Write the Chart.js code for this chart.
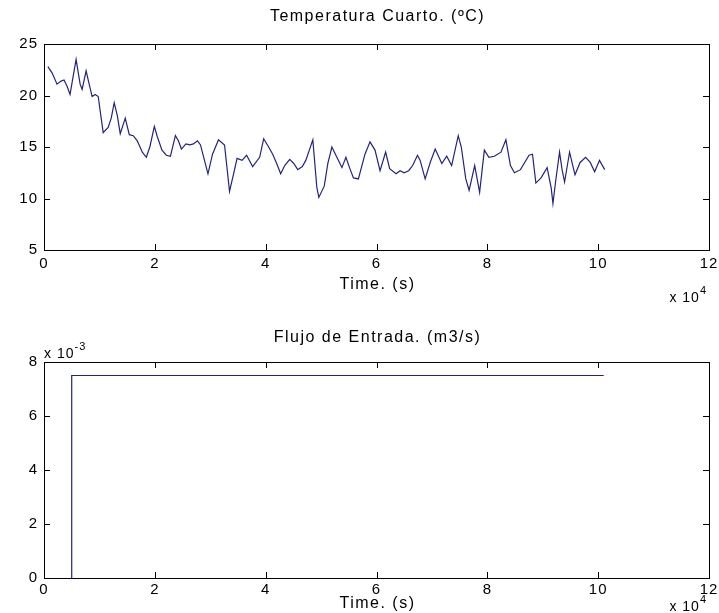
<!DOCTYPE html>
<html>
<head>
<meta charset="utf-8">
<script src="https://cdn.jsdelivr.net/npm/chart.js@4.4.0/dist/chart.umd.min.js"></script>
<style>
  body { margin: 0; background: #fff; }
  #wrap { position: relative; width: 719px; height: 613px; }
  canvas { position: absolute; left: 0; }
</style>
</head>
<body>
<div id="wrap">
  <canvas id="tempChart" width="719" height="310" style="top:0"></canvas>
  <canvas id="flowChart" width="719" height="303" style="top:310px"></canvas>
</div>
<script>
// room temperature (s, ºC)
const tempTime = [
  700, 1450, 2350, 3080, 3620, 4160, 4700, 5790, 6520, 6880,
  7600, 8150, 8690, 9230, 9780, 10680, 11580, 12130, 12670, 13210,
  13760, 14660, 15390, 16110, 16830, 17740, 18460, 19100, 19910, 20450,
  21290, 22080, 22810, 23710, 24250, 24800, 25610, 26330, 26970, 27690,
  28240, 28960, 29590, 30410, 31490, 32580, 32940, 33480, 34210, 34840,
  35740, 36560, 37650, 38910, 39640, 40540, 41270, 41990, 42710, 43440,
  44340, 45070, 45790, 46610, 47240, 48510, 49230, 49590, 50570, 51220,
  51950, 52850, 53760, 54480, 55130, 55840, 56730, 57920, 58830, 59730,
  60640, 61650, 62370, 63530, 64260, 64980, 65810, 66520, 67400, 67880,
  68780, 69690, 70590, 71790, 72670, 73560, 74750, 75300, 76110, 76710,
  77720, 78610, 79460, 80280, 81270, 82460, 83350, 84170, 84890, 85980,
  87530, 88150, 88760, 89690, 90790, 91530, 91840, 92310, 93030, 93490,
  93940, 94840, 95820, 96740, 97740, 98570, 99370, 100240, 101180
];
const tempValues = [
  22.8, 22.2, 21.1, 21.4, 21.5, 20.9, 20.1, 23.5, 21.1, 20.6,
  22.4, 21.1, 19.9, 20.1, 19.9, 16.4, 16.9, 17.8, 19.3, 18.1,
  16.3, 17.8, 16.2, 16.1, 15.6, 14.5, 14.0, 15.0, 17.0, 16.0,
  14.7, 14.2, 14.1, 16.1, 15.6, 14.8, 15.3, 15.2, 15.3, 15.6,
  15.2, 13.7, 12.4, 14.3, 15.7, 15.2, 13.4, 10.7, 12.4, 13.9,
  13.7, 14.2, 13.1, 14.0, 15.8, 15.0, 14.3, 13.4, 12.4, 13.2,
  13.8, 13.4, 12.8, 13.1, 13.7, 15.7, 11.1, 10.1, 11.2, 13.4,
  15.0, 14.0, 13.0, 14.0, 13.0, 12.0, 11.9, 14.3, 15.5, 14.7,
  12.7, 14.5, 12.9, 12.4, 12.7, 12.5, 12.7, 13.2, 14.2, 13.7,
  11.9, 13.5, 14.8, 13.4, 14.1, 13.2, 16.1, 15.0, 11.9, 10.8,
  13.2, 10.6, 14.7, 14.0, 14.1, 14.5, 15.7, 13.2, 12.5, 12.8,
  14.2, 14.3, 11.5, 12.0, 13.0, 11.0, 9.5, 11.6, 14.5, 12.8,
  11.6, 14.5, 12.3, 13.5, 14.0, 13.5, 12.6, 13.7, 12.8
];

// inflow (s, m3/s)
const flowTime = [5000, 5000, 101000];
const flowValues = [0, 0.0075, 0.0075];

// tick labels
const timeTicks = [0, 2, 4, 6, 8, 10, 12];   // x 10^4
const tempTicks = [5, 10, 15, 20, 25];
const flowTicks = [0, 2, 4, 6, 8];           // x 10^-3

const FONT = "'Liberation Sans', Arial, sans-serif";
const LINE_COLOR = '#23237e';

function drawPower(ctx, x, y, exp, alignRight) {
    ctx.textAlign = 'left';
    ctx.letterSpacing = '1px';
    ctx.font = `14px ${FONT}`;
    const w = ctx.measureText('x 10').width;
    ctx.font = `11px ${FONT}`;
    const we = ctx.measureText(exp).width;
    if (alignRight) x -= w + we;
    ctx.font = `14px ${FONT}`;
    ctx.fillText('x 10', x, y);
    ctx.font = `11px ${FONT}`;
    ctx.fillText(exp, x + w, y - 7);
}

const matlabFrame = {
    id: 'matlabFrame',
    beforeLayout(chart) { chart.ctx.letterSpacing = '1px'; },
    beforeDraw(chart) { chart.ctx.letterSpacing = '1px'; },
    afterDraw(chart, args, opts) {
        const { ctx, chartArea: a, scales } = chart;
        ctx.save();
        ctx.strokeStyle = '#000';
        ctx.lineWidth = 1;
        ctx.strokeRect(a.left + 0.5, a.top + 0.5, a.right - a.left, a.bottom - a.top);
        ctx.beginPath();
        scales.x.ticks.forEach(t => {
            const px = Math.round(scales.x.getPixelForValue(t.value)) + 0.5;
            ctx.moveTo(px, a.bottom); ctx.lineTo(px, a.bottom - 6);
            ctx.moveTo(px, a.top); ctx.lineTo(px, a.top + 6);
        });
        scales.y.ticks.forEach(t => {
            const py = Math.round(scales.y.getPixelForValue(t.value)) + 0.5;
            ctx.moveTo(a.left, py); ctx.lineTo(a.left + 6, py);
            ctx.moveTo(a.right, py); ctx.lineTo(a.right - 6, py);
        });
        ctx.stroke();

        ctx.fillStyle = '#000';
        ctx.font = `16px ${FONT}`;
        ctx.letterSpacing = '1.5px';
        ctx.textAlign = 'center';
        ctx.textBaseline = 'middle';
        const cx = (a.left + a.right) / 2 + 1;
        ctx.fillText(opts.title, cx, opts.titleY);
        ctx.fillText('Time. (s)', cx, a.bottom + opts.xTitleGap);
        drawPower(ctx, a.right - 2, a.bottom + opts.xExpGap, '4', true);
        if (opts.yExp) drawPower(ctx, a.left, a.top - 8, opts.yExp, false);
        ctx.restore();
    }
};

function makeChart(id, times, values, yTicks, yScale, opts) {
    const tickFont = { family: FONT, size: 15 };
    return new Chart(document.getElementById(id), {
        type: 'line',
        data: {
            datasets: [{
                data: times.map((t, i) => ({ x: t, y: values[i] })),
                borderColor: LINE_COLOR,
                borderWidth: 1.2,
                pointRadius: 0,
                tension: 0,
                fill: false
            }]
        },
        options: {
            responsive: false,
            animation: false,
            events: [],
            layout: { padding: { top: opts.top, right: 10, bottom: 0, left: 0 } },
            plugins: {
                legend: { display: false },
                tooltip: { enabled: false },
                matlabFrame: opts
            },
            scales: {
                x: {
                    type: 'linear',
                    min: 0, max: 120000,
                    grid: { display: false, drawTicks: false },
                    border: { display: false },
                    afterBuildTicks: s => { s.ticks = timeTicks.map(v => ({ value: v * 1e4 })); },
                    afterFit: s => { s.height = opts.xHeight; s.paddingLeft = 0; s.paddingRight = 0; },
                    ticks: {
                        autoSkip: false, maxRotation: 0, padding: opts.xPad,
                        color: '#000', font: tickFont,
                        callback: v => String(v / 1e4)
                    }
                },
                y: {
                    type: 'linear',
                    min: yTicks[0] * yScale, max: yTicks[yTicks.length - 1] * yScale,
                    grid: { display: false, drawTicks: false },
                    border: { display: false },
                    afterBuildTicks: s => { s.ticks = yTicks.map(v => ({ value: v * yScale })); },
                    afterFit: s => { s.width = 44; s.paddingTop = 0; s.paddingBottom = 0; },
                    ticks: {
                        padding: 6,
                        color: '#000', font: tickFont,
                        callback: v => String(Math.round(v / yScale))
                    }
                }
            }
        },
        plugins: [matlabFrame]
    });
}

makeChart('tempChart', tempTime, tempValues, tempTicks, 1, {
    top: 44, xHeight: 60, xPad: 5,
    title: 'Temperatura Cuarto. (ºC)', titleY: 17,
    xTitleGap: 35, xExpGap: 48
});

makeChart('flowChart', flowTime, flowValues, flowTicks, 1e-3, {
    top: 52, xHeight: 35, xPad: 3,
    title: 'Flujo de Entrada. (m3/s)', titleY: 28,
    xTitleGap: 26, xExpGap: 29, yExp: '-3'
});
</script>
</body>
</html>
